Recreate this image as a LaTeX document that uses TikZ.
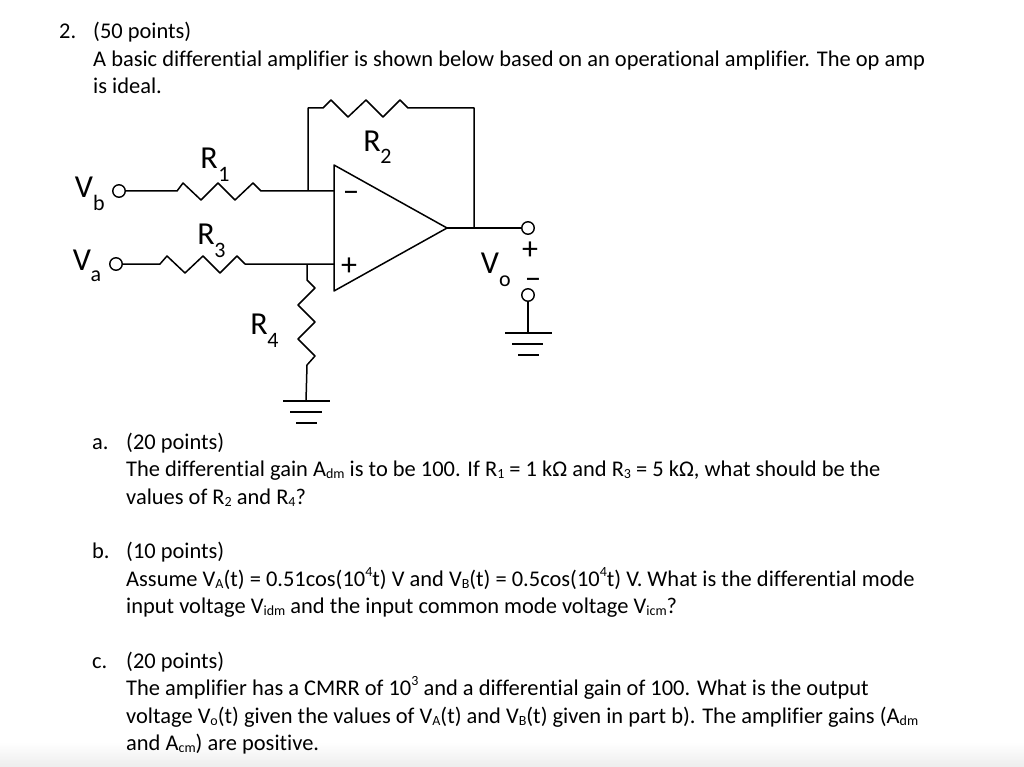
\documentclass[tikz,border=0pt]{standalone}
\usepackage{fontspec}
\setmainfont[Ligatures=NoCommon]{Carlito}
\tikzset{
  wire/.style={line width=1.5pt,line join=round},
  terminal/.style={circle,draw,line width=1.4pt,fill=white,minimum size=12.5pt,inner sep=0pt},
  txt/.style={anchor=base west,inner sep=0pt,font=\fontsize{22.45}{26}\selectfont},
  big/.style={inner sep=0pt,font=\fontsize{32}{36}\selectfont},
  small/.style={inner sep=0pt,font=\fontsize{22}{26}\selectfont},
  sign/.style={inner sep=0pt,font=\fontsize{32}{36}\selectfont},
}
\newcommand{\dn}[1]{\raisebox{-0.1em}{\fontsize{14}{16}\selectfont #1}}
\newcommand{\up}[1]{\raisebox{0.42em}{\fontsize{14}{16}\selectfont #1}}
\begin{document}
\begin{tikzpicture}[x=1pt,y=-1pt]
\useasboundingbox (0,0) rectangle (1024,767);
\shade[top color=white,bottom color=black!7,draw=none] (0,742) rectangle (1024,767);

% op amp
\coordinate (Atop) at (334,165);
\coordinate (Abot) at (334,291);
\coordinate (Aout) at (447,228);
\coordinate (Aneg) at (334,191);
\coordinate (Apos) at (334,264);
\draw[wire] (Atop) -- (Aout) -- (Abot) -- cycle;
\node[sign] (minus) at (351,197) {−};
\node[sign] (plus) at (349,267) {+};

% terminals
\node[terminal] (Vb) at (119,191) {};
\node[terminal] (Va) at (116,264) {};
\node[terminal] (Vp) at (528,228) {};
\node[terminal] (Vn) at (528,295) {};

% R1
\coordinate (Jn) at (308,191);
\draw[wire] (Vb) -- (177,191) -- ++(6,-8) -- ++(18,17) -- ++(17,-17) -- ++(17,17) -- ++(18,-17) -- ++(8,8) -- (Jn) -- (Aneg);
% R3
\coordinate (Jp) at (307,264);
\draw[wire] (Va) -- (160,264) -- ++(7,-8) -- ++(18,17) -- ++(18,-17) -- ++(17,17) -- ++(17,-17) -- ++(8,8) -- (Jp) -- (Apos);
% R2
\coordinate (Jo) at (474,228);
\draw[wire] (Jn) -- (308,108) -- (323,108) -- ++(8,-8) -- ++(17,17) -- ++(18,-17) -- ++(17,17) -- ++(17,-17) -- ++(8,8) -- (474,108) -- (Jo);
\draw[wire] (Aout) -- (Jo) -- (Vp);
% R4
\coordinate (G1) at (306,401);
\draw[wire] (Jp) -- (307,280) -- ++(8,8) -- ++(-17,17) -- ++(17,17) -- ++(-17,17) -- ++(17,17) -- ++(-8,9) -- (G1);
\draw[wire] (283,401) -- (330,401);
\draw[wire] (290,412) -- (322,412);
\draw[wire] (296,423) -- (317,423);
% output ground
\coordinate (G2) at (528,333);
\draw[wire] (Vn) -- (G2);
\draw[wire] (505,333) -- (552,333);
\draw[wire] (512,344) -- (543,344);
\draw[wire] (518,355) -- (539,355);

% labels
\node[big] (R1) at (209,158) {R};
\node[small] (R1s) at (224,174) {1};
\node[big] (R2) at (372,141) {R};
\node[small] (R2s) at (386,156) {2};
\node[big] (R3) at (206,234) {R};
\node[small] (R3s) at (220,250) {3};
\node[big] (R4) at (259,324) {R};
\node[small] (R4s) at (273,340) {4};
\node[big] (Vbl) at (84,187) {V};
\node[small] (Vbs) at (99,203) {b};
\node[big] (Val) at (82,260) {V};
\node[small] (Vas) at (96,276) {a};
\node[big] (Vol) at (490,263) {V};
\node[small] (Vos) at (505,281) {o};
\node[sign] (Vplus) at (530,251) {+};
\node[sign] (Vminus) at (533,284) {−};

% question text
\node[txt] (q) at (59,39) {2.};
\node[txt] (q0) at (93,39) {(50 points)};
\node[txt] (q1) at (93,67) {A basic differential amplifier is shown below based on an operational amplifier. The op amp};
\node[txt] (q2) at (93,94) {is ideal.};
\node[txt] (a) at (92,449) {a.};
\node[txt] (a0) at (126,449) {(20 points)};
\node[txt] (a1) at (126,476) {The differential gain A\dn{dm} is to be 100. If R\dn{1} = 1 kΩ and R\dn{3} = 5 kΩ, what should be the};
\node[txt] (a2) at (126,504) {values of R\dn{2} and R\dn{4}?};
\node[txt] (b) at (92,558) {b.};
\node[txt] (b0) at (126,558) {(10 points)};
\node[txt] (b1) at (126,586) {Assume V\dn{A}(t) = 0.51cos(10\up{4}t) V and V\dn{B}(t) = 0.5cos(10\up{4}t) V. What is the differential mode};
\node[txt] (b2) at (126,613) {input voltage V\dn{idm} and the input common mode voltage V\dn{icm}?};
\node[txt] (c) at (92,668) {c.};
\node[txt] (c0) at (126,668) {(20 points)};
\node[txt] (c1) at (126,695) {The amplifier has a CMRR of 10\up{3} and a differential gain of 100. What is the output};
\node[txt] (c2) at (126,723) {voltage V\dn{o}(t) given the values of V\dn{A}(t) and V\dn{B}(t) given in part b). The amplifier gains (A\dn{dm}};
\node[txt] (c3) at (126,750) {and A\dn{cm}) are positive.};
\end{tikzpicture}
\end{document}
